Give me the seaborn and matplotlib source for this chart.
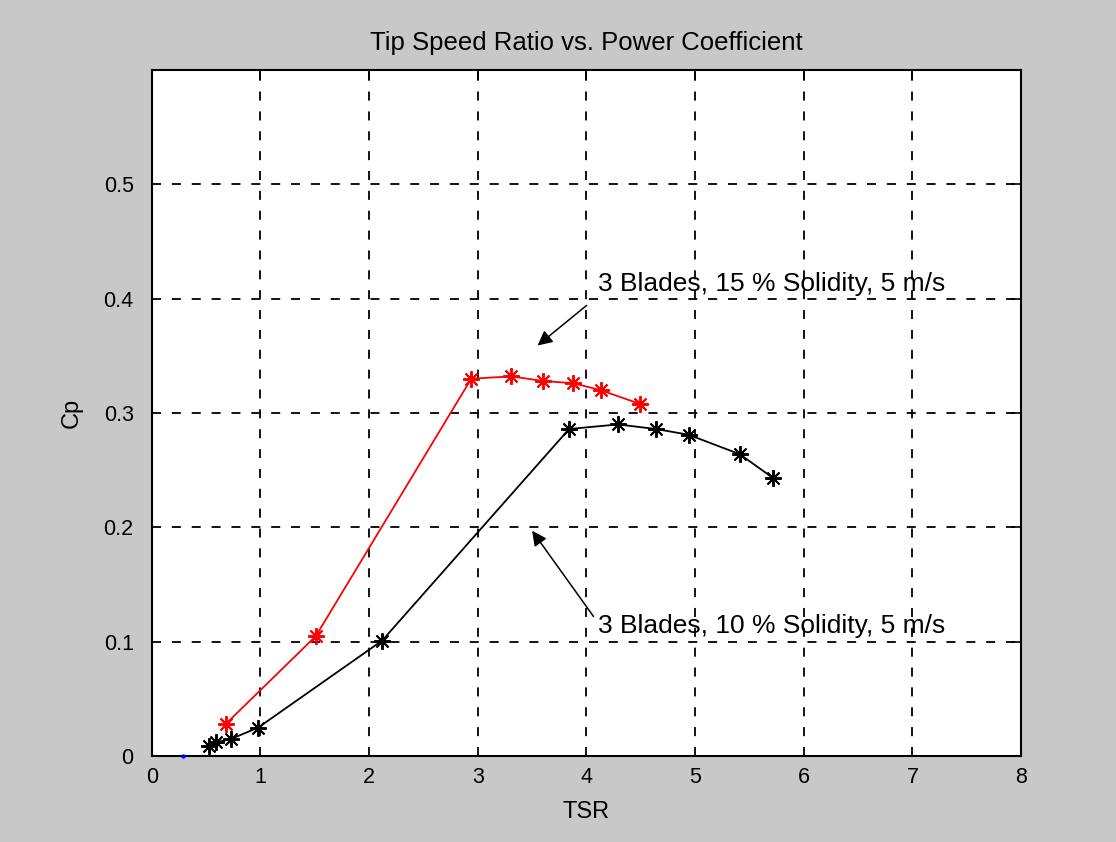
import numpy as np
import pandas as pd
import seaborn as sns
import matplotlib.pyplot as plt


# data
tsr_15 = [0.68, 1.51, 2.94, 3.31, 3.60, 3.88, 4.13, 4.49]
cp_15 = [0.028, 0.105, 0.330, 0.332, 0.328, 0.326, 0.320, 0.308]

tsr_10 = [0.53, 0.59, 0.73, 0.98, 2.12, 3.84, 4.29, 4.64, 4.94, 5.41, 5.72]
cp_10 = [0.009, 0.012, 0.015, 0.025, 0.101, 0.286, 0.290, 0.286, 0.281, 0.264, 0.243]

tsr_origin = [0.29]
cp_origin = [0.0]

label_15 = "3 Blades, 15 % Solidity, 5 m/s"
label_10 = "3 Blades, 10 % Solidity, 5 m/s"

sns.set_style("white")
plt.rcParams['font.family'] = ['Liberation Sans', 'DejaVu Sans']
plt.rcParams['text.color'] = 'black'
plt.rcParams['axes.labelcolor'] = 'black'

fig = plt.figure(figsize=(11.16, 8.42), dpi=100, facecolor='#c8c8c8')
ax = fig.add_axes([0.136, 0.102, 0.779, 0.815])
ax.set_facecolor('white')

asterisk = (8, 2, 0)
sns.lineplot(x=tsr_15, y=cp_15, ax=ax, color='red', linewidth=1.3,
             marker=asterisk, markersize=12, markeredgecolor='red',
             markeredgewidth=1.4, estimator=None)
sns.lineplot(x=tsr_10, y=cp_10, ax=ax, color='black', linewidth=1.3,
             marker=asterisk, markersize=12, markeredgecolor='black',
             markeredgewidth=1.4, estimator=None)
sns.scatterplot(x=tsr_origin, y=cp_origin, ax=ax, color='blue', s=8,
                edgecolor='blue', zorder=5, clip_on=False)

ax.set_xlim(0, 8)
ax.set_ylim(0, 0.6)
ax.set_xticks(range(0, 9))
ax.set_yticks([0, 0.1, 0.2, 0.3, 0.4, 0.5])
ax.set_yticklabels(['0', '0.1', '0.2', '0.3', '0.4', '0.5'])

ax.grid(True, color='black', linestyle=(0, (5, 6)), linewidth=1.3)
ax.tick_params(direction='in', length=7, width=1.2, top=True, right=True,
               labelsize=15.5, colors='black')
ax.tick_params(axis='y', pad=13)
ax.tick_params(axis='x', pad=8)
for s in ax.spines.values():
    s.set_color('black')
    s.set_linewidth(1.5)

ax.set_title("Tip Speed Ratio vs. Power Coefficient", fontsize=18.5, pad=14)
ax.set_xlabel("TSR", fontsize=17, labelpad=9)
ax.set_ylabel("Cp", fontsize=17, labelpad=15)

# annotations
ax.annotate(label_15, xy=(3.55, 0.359), xytext=(4.11, 0.413), fontsize=19,
            va='center', ha='left',
            arrowprops=dict(arrowstyle='-|>', color='black', lw=1.1,
                            mutation_scale=22, shrinkA=8, shrinkB=0,
                            relpos=(0, 0)))
ax.annotate(label_10, xy=(3.50, 0.197), xytext=(4.11, 0.114), fontsize=19,
            va='center', ha='left',
            arrowprops=dict(arrowstyle='-|>', color='black', lw=1.1,
                            mutation_scale=22, shrinkA=2, shrinkB=0,
                            relpos=(0, 0.6)))

fig.savefig("out.png", dpi=100, facecolor=fig.get_facecolor())
